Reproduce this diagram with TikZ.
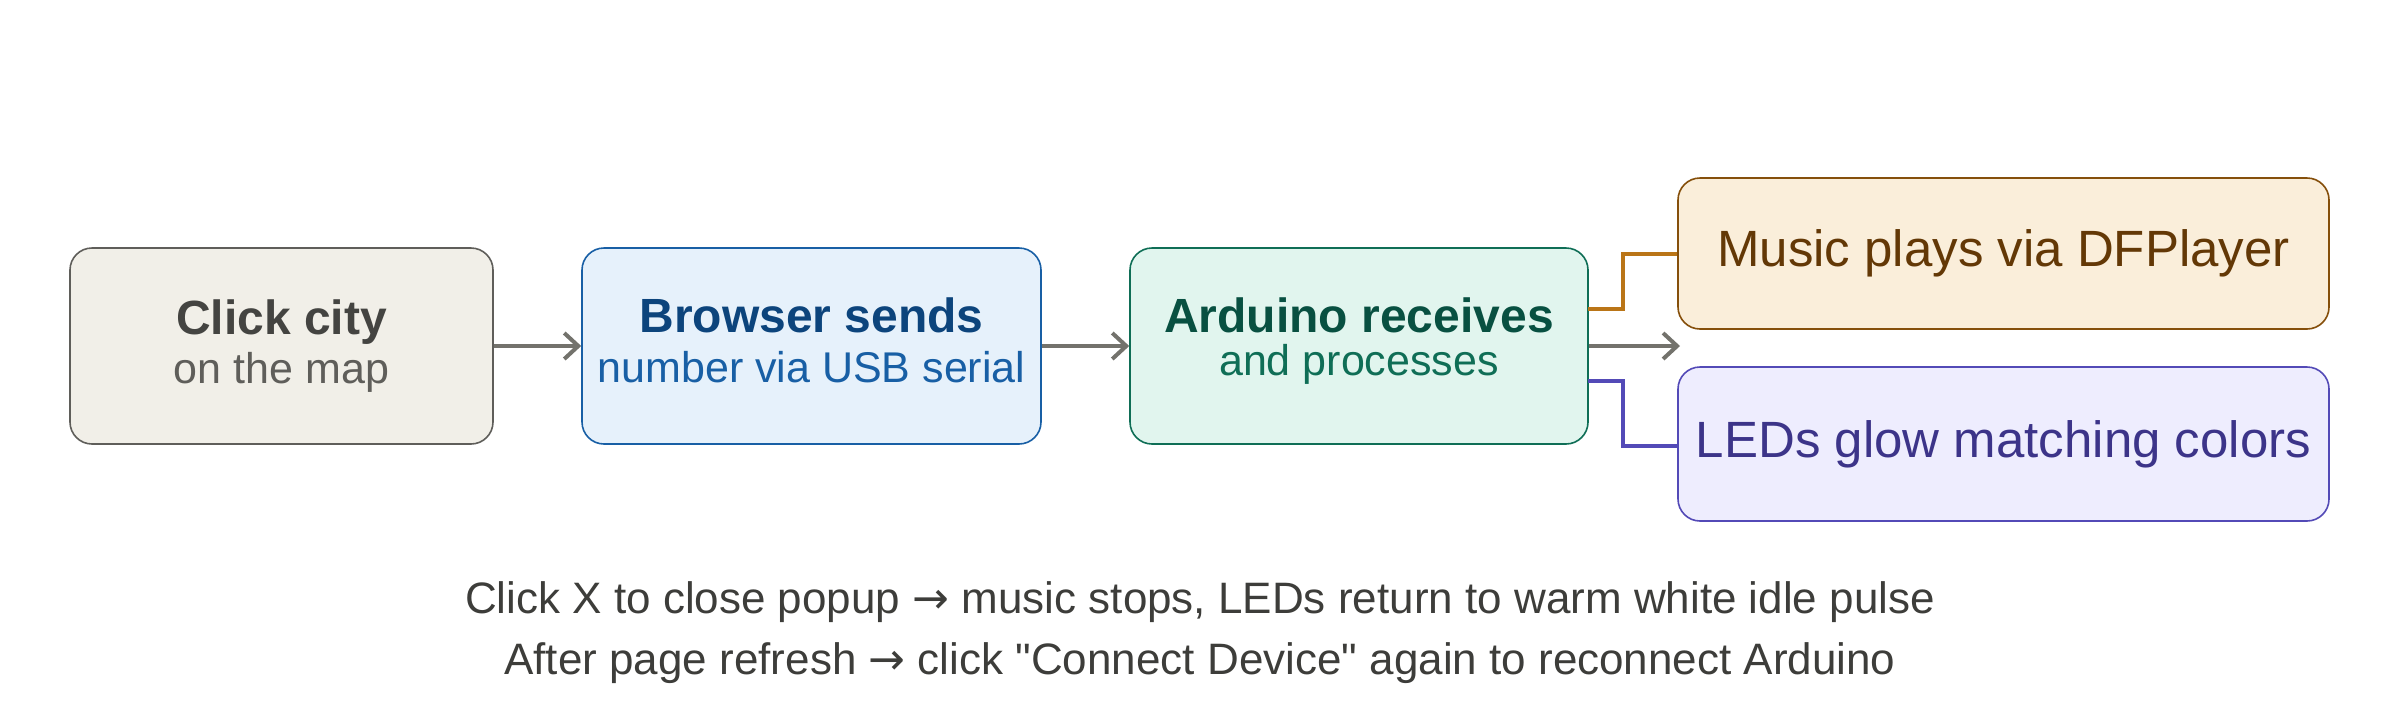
\documentclass[tikz,border=0pt]{standalone}
\usepackage{fontspec}
\setmainfont{Liberation Sans}
\newfontfamily\arrfont{DejaVu Sans}
\newfontfamily\plainfont{Liberation Sans}
\newcommand{\rarr}{{\arrfont →}}
\newcommand{\sq}{{\plainfont\symbol{34}}}
\usetikzlibrary{arrows.meta}
\definecolor{gA}{HTML}{F1EFE8}\definecolor{gB}{HTML}{5F5E5A}\definecolor{gC}{HTML}{444441}
\definecolor{bA}{HTML}{E6F1FB}\definecolor{bB}{HTML}{185FA5}\definecolor{bC}{HTML}{0C447C}
\definecolor{tA}{HTML}{E1F5EE}\definecolor{tB}{HTML}{0F6E56}\definecolor{tC}{HTML}{085041}
\definecolor{oA}{HTML}{FAEEDA}\definecolor{oB}{HTML}{854F0B}\definecolor{oC}{HTML}{633806}\definecolor{oD}{HTML}{BA7517}
\definecolor{pA}{HTML}{EEEDFE}\definecolor{pB}{HTML}{534AB7}\definecolor{pC}{HTML}{3C3489}
\definecolor{arr}{HTML}{73726C}\definecolor{txt}{HTML}{3D3D3A}
\begin{document}
\begin{tikzpicture}[x=1pt,y=-1pt,
 box/.style={draw,line width=1.6pt,rounded corners=22pt,inner sep=0pt},
 ttl/.style={font=\fontsize{48}{56}\selectfont\bfseries},
 sub/.style={font=\fontsize{43}{50}\selectfont},
 big/.style={font=\fontsize{51}{60}\selectfont},
 arrw/.style={draw=arr,line width=4pt,-{Straight Barb[length=14pt,width=26pt,line width=4pt]}},
 conn/.style={line width=4pt}]
\useasboundingbox (0,0) rectangle (2400,724);
\node[box,fill=gA,draw=gB,minimum width=423pt,minimum height=196pt] (a) at (281.5,346) {};
\node[box,fill=bA,draw=bB,minimum width=459pt,minimum height=196pt] (b) at (811.5,346) {};
\node[box,fill=tA,draw=tB,minimum width=458pt,minimum height=196pt] (c) at (1359,346) {};
\node[box,fill=oA,draw=oB,minimum width=651pt,minimum height=151pt] (m) at (2003.5,253.5) {};
\node[box,fill=pA,draw=pB,minimum width=651pt,minimum height=154pt] (l) at (2003.5,444) {};
\node[ttl,text=gC] (a1) at (281.5,322) {Click city};
\node[sub,text=gB] (a2) at (281.5,372) {on the map};
\node[ttl,text=bC] (b1) at (811.5,315) {Browser sends};
\node[sub,text=bB] (b2) at (811.5,367) {number via USB serial};
\node[ttl,text=tC] (c1) at (1359,315) {Arduino receives};
\node[sub,text=tB] (c2) at (1359,364) {and processes};
\node[big,text=oC] (m1) at (m) {Music plays via DFPlayer};
\node[big,text=pC] (l1) at (l) {LEDs glow matching colors};
\draw[arrw] (a.east) -- (b.west);
\draw[arrw] (b.east) -- (c.west);
\coordinate (e) at (1680,346);
\draw[arrw] (c.east) -- (e);
\draw[conn,draw=oD] (1588,309) -| (1623,254) -- (m.west|-0,254);
\draw[conn,draw=pB] (1588,381) -| (1623,446) -- (l.west|-0,446);
\node[font=\fontsize{44}{52}\selectfont,text=txt] (n1) at (1200,602) {Click X to close popup \rarr{} music stops, LEDs return to warm white idle pulse};
\node[font=\fontsize{44}{52}\selectfont,text=txt] (n2) at (1200,663) {After page refresh \rarr{} click \sq Connect Device\sq{} again to reconnect Arduino};
\end{tikzpicture}
\end{document}
